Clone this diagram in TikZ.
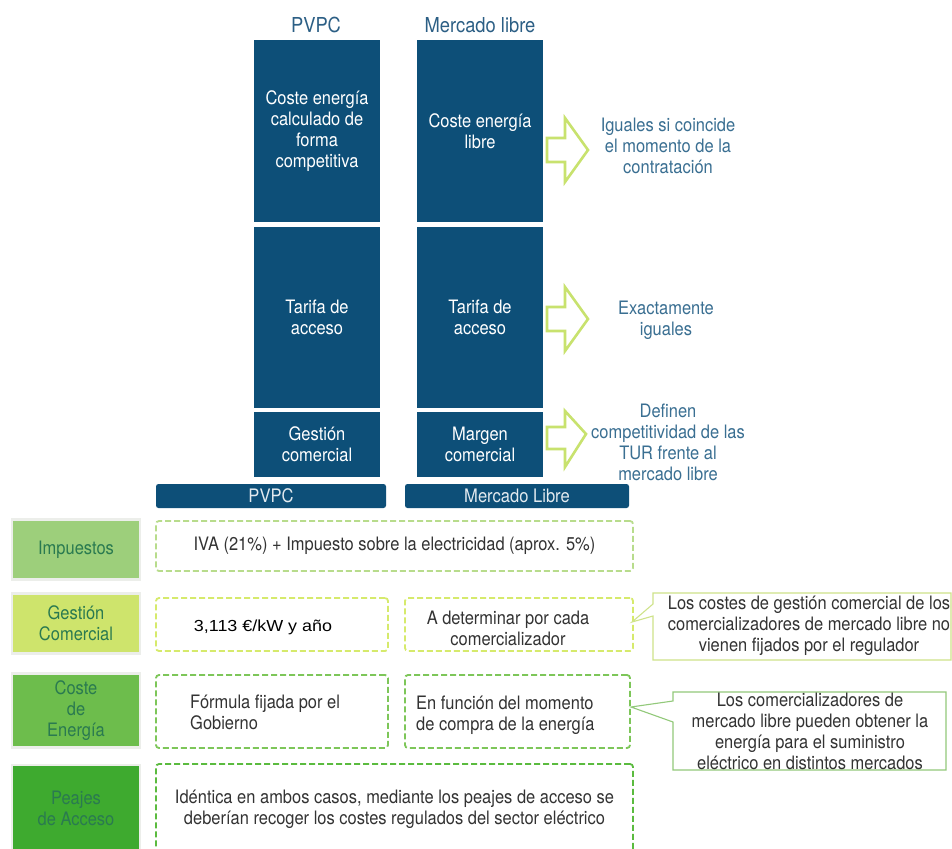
\documentclass[tikz,border=0pt]{standalone}
\usepackage{fontspec}
\setmainfont[FakeStretch=0.89]{TeX Gyre Heros}
\newfontfamily\arialf[FakeStretch=1.12]{Liberation Sans}
\usetikzlibrary{calc}
\definecolor{dblue}{HTML}{0D4F78}
\definecolor{hblue}{HTML}{2C5F85}
\definecolor{ntext}{HTML}{3A6F92}
\definecolor{limeA}{HTML}{C8E26E}
\definecolor{catA}{HTML}{9DCF7B}
\definecolor{catB}{HTML}{CEE46C}
\definecolor{catC}{HTML}{6DBD4C}
\definecolor{catD}{HTML}{3EAA2F}
\definecolor{cattext}{HTML}{2A7A50}
\definecolor{catborder}{HTML}{ECEEEA}
\definecolor{dA}{HTML}{B8DC8C}
\definecolor{dB}{HTML}{D6EA6C}
\definecolor{dC}{HTML}{7DC659}
\definecolor{dD}{HTML}{5BBB3F}
\definecolor{bodytext}{HTML}{333333}
\definecolor{callA}{HTML}{CFE38A}
\definecolor{callB}{HTML}{92C97A}
\begin{document}
\begin{tikzpicture}[x=1pt,y=-1pt,font=\fontsize{18.5}{21}\selectfont]
\tikzset{
 bbox/.style={fill=dblue, text=white, align=center, inner sep=0, outer sep=0, minimum width=126},
 barbox/.style={fill=dblue, text=white!88!dblue, rounded corners=2.5, inner sep=0, outer sep=0, minimum height=24, font=\fontsize{18.6}{21}\selectfont},
 arr/.style={draw=limeA, line width=2.6, line join=miter, fill=white},
 note/.style={text=ntext, align=center, inner sep=0},
 head/.style={text=hblue, font=\fontsize{20.6}{22}\selectfont, inner sep=0},
 cat/.style={draw=catborder, line width=2.5, text=cattext, align=center, minimum width=128, inner sep=0, outer sep=0},
 dbox/.style={dash pattern=on 6pt off 3pt, line width=1.8, rounded corners=3, inner sep=0, outer sep=0},
 body/.style={text=bodytext, inner sep=0},
 callout/.style={fill=white, line width=1.1, line join=miter},
}
\useasboundingbox (0,0) rectangle (952,848);
\clip (0,0) rectangle (952,848);
\fill[white] (0,0) rectangle (952,848);

% headers
\node[head] (hp) at (316,25) {PVPC};
\node[head] (hm) at (480,25) {Mercado libre};

% blue stacks
\node[bbox, minimum height=182] (l1) at (317,131) {Coste energía\\calculado de\\forma\\competitiva};
\node[bbox, minimum height=181] (l2) at (317,317.5) {Tarifa de\\acceso};
\node[bbox, minimum height=65] (l3) at (317,444.5) {Gestión\\comercial};
\node[bbox, minimum height=182] (r1) at (480,131) {Coste energía\\libre};
\node[bbox, minimum height=181] (r2) at (480,317.5) {Tarifa de\\acceso};
\node[bbox, minimum height=65] (r3) at (480,444.5) {Margen\\comercial};

% bars
\node[barbox, minimum width=230] (bp) at (271,496) {PVPC};
\node[barbox, minimum width=224] (bm) at (517,496) {Mercado Libre};

% arrows
\coordinate (a1) at (547,150);
\coordinate (a2) at (547,319);
\coordinate (a3) at (547,438);
\draw[arr, shift={(a1)}] (0,-12) -- (18,-12) -- (18,-32) -- (41,0) -- (18,32) -- (18,12) -- (0,12) -- cycle;
\draw[arr, shift={(a2)}] (0,-12) -- (18,-12) -- (18,-32) -- (41,0) -- (18,32) -- (18,12) -- (0,12) -- cycle;
\draw[arr, shift={(a3)}] (0,-11) -- (18,-11) -- (18,-27) -- (39,-4) -- (18,29) -- (18,11) -- (0,11) -- cycle;

% notes
\node[note] (n1) at (668,146) {Iguales si coincide\\el momento de la\\contratación};
\node[note] (n2) at (666,320) {Exactamente\\iguales};
\node[note] (n3) at (668,442.5) {Definen\\competitividad de las\\TUR frente al\\mercado libre};

% category boxes
\node[cat, fill=catA, minimum height=60] (cA) at (76,549.5) {Impuestos};
\node[cat, fill=catB, minimum height=60] (cB) at (76,623.5) {Gestión\\Comercial};
\node[cat, fill=catC, minimum height=74] (cC) at (76,710.5) {Coste\\de\\Energía};
\node[cat, fill=catD, minimum height=86] (cD) at (76,808) {Peajes\\de Acceso};

% dashed boxes
\node[dbox, draw=dA, minimum width=477, minimum height=50] (iA) at (394.5,546) {};
\node[body] (tA) at (394.5,546) {IVA (21\%) + Impuesto sobre la electricidad (aprox. 5\%)};

\node[dbox, draw=dB, minimum width=232, minimum height=53] (g1) at (272,624.5) {};
\node[body, text=black, font=\arialf\fontsize{16}{18}\selectfont] (tg1) at (263,627) {3,113 €/kW y año};
\node[dbox, draw=dB, minimum width=228, minimum height=53] (g2) at (519,624.5) {};
\node[body, align=center] (tg2) at (508,628.5) {A determinar por cada\\comercializador};

\node[dbox, draw=dC, minimum width=232, minimum height=73] (e1) at (272,711.5) {};
\node[body, align=left, anchor=west] (te1) at (190,712.5) {Fórmula fijada por el\\Gobierno};
\node[dbox, draw=dC, minimum width=225, minimum height=73] (e2) at (517.5,711.5) {};
\node[body, align=left, anchor=west] (te2) at (416,715.5) {En función del momento\\de compra de la energía};

\node[dbox, draw=dD, minimum width=477, minimum height=100] (pA) at (394.5,814) {};
\node[body, align=center] (tp) at (394.5,809) {Idéntica en ambos casos, mediante los peajes de acceso se\\deberían recoger los costes regulados del sector eléctrico};

% callouts
\coordinate (k1) at (632,622);
\draw[callout, draw=callA] (653,593) -- (951,593) -- (951,660) -- (653,660) -- (653,616) -- (k1) -- (653,604) -- cycle;
\node[body, align=center] (c1) at (809,626) {Los costes de gestión comercial de los\\comercializadores de mercado libre no\\vienen fijados por el regulador};
\coordinate (k2) at (631,707);
\draw[callout, draw=callB] (673,692) -- (946,692) -- (946,770) -- (673,770) -- (673,722) -- (k2) -- (673,701) -- cycle;
\node[body, align=center] (c2) at (810,731.5) {Los comercializadores de\\mercado libre pueden obtener la\\energía para el suministro\\eléctrico en distintos mercados};
\end{tikzpicture}
\end{document}
